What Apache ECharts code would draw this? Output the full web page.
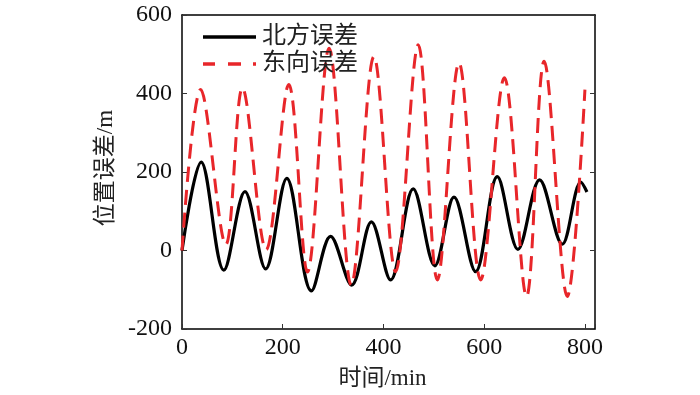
<!DOCTYPE html>
<html>
<head>
<meta charset="utf-8">
<script src="https://cdn.jsdelivr.net/npm/echarts@6/dist/echarts.min.js"></script>
<style>html,body{margin:0;padding:0;background:#fff}#c{width:700px;height:395px}</style>
</head>
<body>
<div id="c"></div>
<script>
var seriesNames = ['北方误差', '东向误差'];
var xTicks = [0, 200, 400, 600, 800];
var yTicks = [-200, 0, 200, 400, 600];
// [time (min), error (m)] : turning points
var northError = [
  [0,0],[38,225],[83,-50],[125,150],[166,-47],[208,184],[257,-103],[295,36],[337,-88],
  [376,73],[414,-75],[459,157],[502,-39],[540,136],[583,-54],[626,188],[667,3],[710,180],
  [755,16],[792,174],[804,149]
];
var eastError = [
  [0,0],[37,410],[87,15],[120,414],[167,2],[212,423],[249,-55],[292,515],[336,-88],
  [381,494],[424,-54],[469,524],[507,-75],[550,478],[593,-75],[640,440],[684,-117],
  [719,482],[765,-117],[800,410]
];

var FONT = "'Liberation Serif', 'Noto Sans CJK SC', serif";
var chart = echarts.init(document.getElementById('c'));
var lineCol = '#000';
function baseAxis(extra) {
  return Object.assign({
    axisLine: {show: true, onZero: false, lineStyle: {color: lineCol, width: 1.5}},
    axisTick: {show: true, inside: true, length: 5, lineStyle: {color: '#333', width: 1}},
    splitLine: {show: false}
  }, extra);
}
chart.setOption({
  animation: false,
  backgroundColor: '#fff',
  grid: {left: 182, right: 105, top: 15, bottom: 64},
  legend: {
    data: [
      {name: seriesNames[0], icon: 'path://M0,0h53v3.5h-53z'},
      {name: seriesNames[1], icon: 'path://M0,0h12v3.5h-12zM25,0h13v3.5h-13zM50,0h3v3.5h-3z'}
    ],
    orient: 'vertical',
    left: 198,
    top: 20,
    itemWidth: 53,
    itemHeight: 3.5,
    itemGap: 3,
    itemStyle: {borderWidth: 0},
    textStyle: {fontFamily: FONT, fontSize: 24, color: '#222', padding: [0, 0, 0, 1]}
  },
  xAxis: [
    baseAxis({
      type: 'value', min: xTicks[0], max: 820, interval: 200,
      name: '时间/min', nameLocation: 'middle', nameGap: 38,
      nameTextStyle: {fontFamily: FONT, fontSize: 23, color: '#222', padding: [0, 12, 0, 0]},
      axisLabel: {fontFamily: FONT, fontSize: 24, color: '#111', margin: 7,
        formatter: function (v) { return xTicks.indexOf(v) >= 0 ? String(v) : ''; }}
    }),
    baseAxis({
      type: 'value', position: 'top', min: xTicks[0], max: 820, interval: 200,
      axisTick: {show: false}, axisLabel: {show: false}
    })
  ],
  yAxis: [
    baseAxis({
      type: 'value', min: yTicks[0], max: yTicks[yTicks.length - 1], interval: 200,
      name: '位置误差/m', nameLocation: 'middle', nameGap: 45, nameRotate: 90,
      nameTextStyle: {fontFamily: FONT, fontSize: 23, color: '#222', padding: [0, 0, 0, 8]},
      axisLabel: {fontFamily: FONT, fontSize: 24, color: '#111', margin: 10}
    }),
    baseAxis({
      type: 'value', position: 'right', min: yTicks[0], max: yTicks[yTicks.length - 1], interval: 200,
      axisLabel: {show: false}
    })
  ],
  series: [
    {
      name: seriesNames[0], type: 'line', data: northError, smooth: 0.35, symbol: 'none',
      lineStyle: {color: '#000', width: 3.2}, itemStyle: {color: '#000'}
    },
    {
      name: seriesNames[1], type: 'line', data: eastError, smooth: 0.35, symbol: 'none',
      lineStyle: {color: '#e8262a', width: 3, type: [15, 8]}, itemStyle: {color: '#e8262a'}
    }
  ]
});
</script>
</body>
</html>
